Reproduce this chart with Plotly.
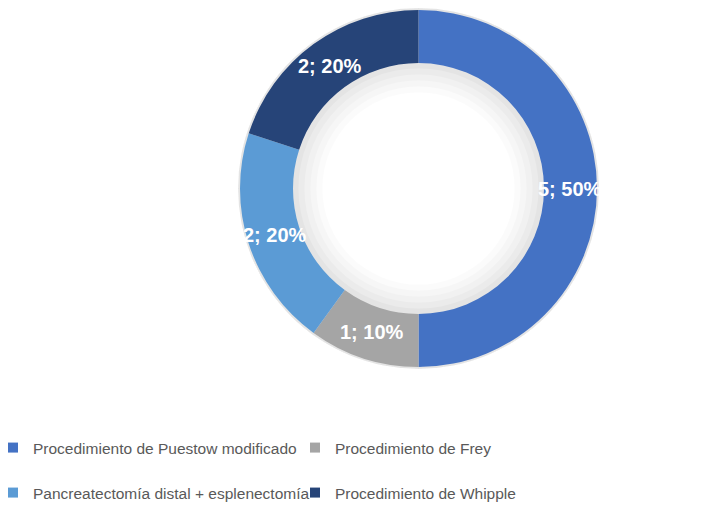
import math
import plotly.graph_objects as go

# ---- data ----
categories = [
    "Procedimiento de Puestow modificado",
    "Procedimiento de Frey",
    "Pancreatectomía distal + esplenectomía",
    "Procedimiento de Whipple",
]
values = [5, 1, 2, 2]
colors = ["#4472C4", "#A5A5A5", "#5B9BD5", "#264478"]
legend_rows = ["legend", "legend", "legend2", "legend2"]

# ---- geometry (page pixels; the page body has an 8px margin) ----
OFF = 8
W, H = 700, 499
B = 120                     # bottom margin, legends sit below plot area
PW, PH = W, H - B           # plot-area size in px
CX, CY = 418.5, 188.5
R_OUT, R_IN = 178.5, 125.5
R_LABEL = 151


def fx(x):
    return (x - OFF) / PW


def fy(y):
    return 1 - (y - OFF) / PH


def dom(r):
    return dict(x=[fx(CX - r), fx(CX + r)], y=[fy(CY + r), min(1, fy(CY - r))])


fig = go.Figure()

# soft glow behind the ring (decoration)
for r_o, r_i, a in [(180.5, 96, 0.016), (180.5, 102, 0.018), (180.5, 108, 0.02),
                    (180.5, 114, 0.024), (180.5, 120, 0.028)]:
    fig.add_trace(go.Pie(values=[1], labels=["glow"], domain=dom(r_o), hole=r_i / r_o,
                         marker=dict(colors=[f"rgba(0,0,0,{a})"], line=dict(width=0)),
                         textinfo="none", hoverinfo="skip", showlegend=False, sort=False))

fig.add_trace(go.Pie(
    labels=categories, values=values, domain=dom(R_OUT), hole=R_IN / R_OUT,
    sort=False, direction="clockwise", rotation=0,
    marker=dict(colors=colors, line=dict(width=0)),
    textinfo="none", showlegend=False,
))

# data labels at the middle of each ring segment
total = sum(values)
cum = 0
for v in values:
    theta = 2 * math.pi * (cum + v / 2) / total
    cum += v
    px = CX + R_LABEL * math.sin(theta)
    py = CY - R_LABEL * math.cos(theta)
    fig.add_annotation(x=fx(px), y=fy(py), xref="paper", yref="paper",
                       xanchor="center", yanchor="middle",
                       text=f"<b>{v}; {round(100 * v / total)}%</b>", showarrow=False,
                       font=dict(family="Liberation Sans", size=20, color="white"))

# legend entries
for name, c, lg in zip(categories, colors, legend_rows):
    fig.add_trace(go.Scatter(x=[None], y=[None], mode="markers", name=name,
                             marker=dict(symbol="square", size=10, color=c),
                             legend=lg, showlegend=True))

legend_common = dict(orientation="h", xanchor="left", x=-15 / PW, yanchor="middle",
                     font=dict(family="Liberation Sans", size=15.5, color="#595959"),
                     entrywidth=257, entrywidthmode="pixels", itemwidth=30,
                     bgcolor="rgba(0,0,0,0)", traceorder="normal")

fig.update_layout(
    width=W, height=H,
    margin=dict(l=0, r=0, t=0, b=B, autoexpand=False),
    paper_bgcolor="white", plot_bgcolor="white",
    xaxis=dict(visible=False), yaxis=dict(visible=False),
    legend=dict(**legend_common, y=fy(448)),
    legend2=dict(**legend_common, y=fy(493)),
)

fig.write_html("out.html")
